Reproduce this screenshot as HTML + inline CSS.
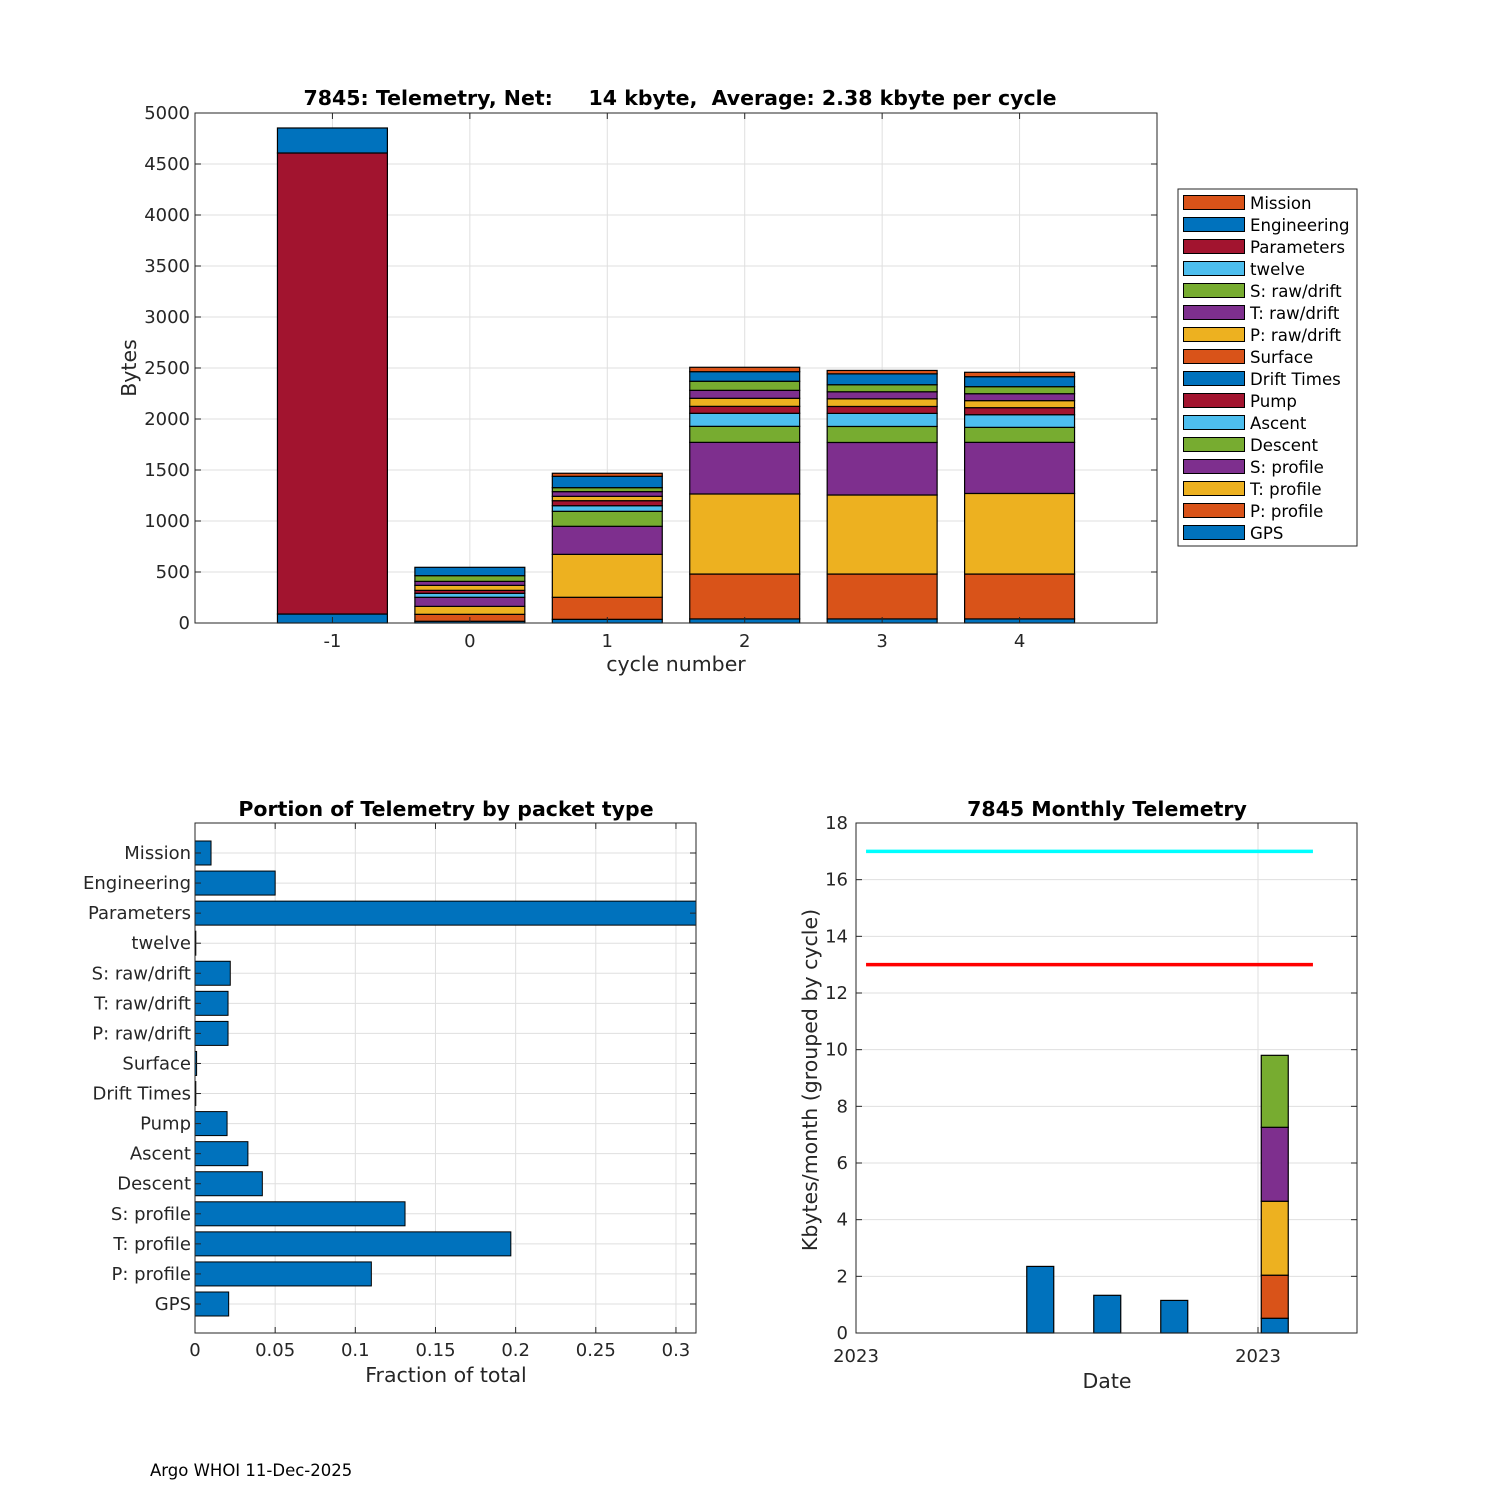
<!DOCTYPE html>
<html><head><meta charset="utf-8">
<style>
html,body{margin:0;padding:0;background:#fff;}
svg{display:block;font-family:"DejaVu Sans","Liberation Sans",sans-serif;}
</style></head>
<body>
<svg id="fig" width="1500" height="1500" viewBox="0 0 1500 1500" xmlns="http://www.w3.org/2000/svg">
<rect x="0" y="0" width="1500" height="1500" fill="#fff"/>
<g id="top"></g><g id="bl"></g><g id="br"></g>
<text x="150" y="1476" font-size="16.5" fill="#000">Argo WHOI 11-Dec-2025</text>
</svg>
<script>
// ---------- data: top chart ----------
const cycles = [-1, 0, 1, 2, 3, 4];
const seriesNames = ["GPS","P: profile","T: profile","S: profile","Descent","Ascent","Pump","Drift Times","Surface","P: raw/drift","T: raw/drift","S: raw/drift","twelve","Parameters","Engineering","Mission"];
const gpsVals = [88,17,36,40,40,40];
const pProfVals = [0,68,216,440,440,440];
const tProfVals = [0,78,421,785,775,790];
const sProfVals = [0,89,275,506,515,501];
const descentVals = [0,0,147,157,157,147];
const ascentVals = [0,39,55,128,128,124];
const pumpVals = [0,29,49,68,68,69];
const driftVals = [0,0,0,0,0,0];
const surfaceVals = [0,0,0,0,0,0];
const pRawVals = [0,49,43,79,75,69];
const tRawVals = [0,39,46,78,69,68];
const sRawVals = [0,56,39,89,69,69];
const twelveVals = [0,0,0,0,0,0];
const paramVals = [4520,0,0,0,0,0];
const engVals = [245,82,111,94,107,98];
const missionVals = [0,0,30,43,33,43];
const yTicksTop = [0,500,1000,1500,2000,2500,3000,3500,4000,4500,5000];
// ---------- data: bottom-left ----------
const packetTypes = ["Mission","Engineering","Parameters","twelve","S: raw/drift","T: raw/drift","P: raw/drift","Surface","Drift Times","Pump","Ascent","Descent","S: profile","T: profile","P: profile","GPS"];
const fractions = [0.010,0.050,0.323,0.0005,0.022,0.0206,0.0206,0.001,0.0005,0.020,0.033,0.042,0.131,0.197,0.110,0.021];
const xTicksFrac = [0,0.05,0.1,0.15,0.2,0.25,0.3];
const xTickFracLabels = ["0","0.05","0.1","0.15","0.2","0.25","0.3"];
// ---------- data: bottom-right ----------
const monthPos = [2.75,3.75,4.75];
const monthVals = [2.35,1.33,1.15];
const stackPos = 6.25;
const stackVals = [0.52,1.52,2.61,2.61,2.54];
const yTicksMonthly = [0,2,4,6,8,10,12,14,16,18];
const dateTicks = [0,6];
const dateTickLabels = ["2023","2023"];
const limitLevels = [17,13];
const limitStart = 0.15, limitEnd = 6.82;

const C = {blue:"#0072BD",orange:"#D95319",yellow:"#EDB120",purple:"#7E2F8E",green:"#77AC30",lblue:"#4DBEEE",red:"#A2142F"};
const seriesColors = [C.blue,C.orange,C.yellow,C.purple,C.green,C.lblue,C.red,C.blue,C.orange,C.yellow,C.purple,C.green,C.lblue,C.red,C.blue,C.orange];
const seriesData = [gpsVals,pProfVals,tProfVals,sProfVals,descentVals,ascentVals,pumpVals,driftVals,surfaceVals,pRawVals,tRawVals,sRawVals,twelveVals,paramVals,engVals,missionVals];
const NS="http://www.w3.org/2000/svg";
function mk(parent,tag,attrs,text){const e=document.createElementNS(NS,tag);for(const k in attrs)e.setAttribute(k,attrs[k]);if(text!==undefined)e.textContent=text;parent.appendChild(e);return e;}
const GRID="#dfdfdf", AX="#262626", TF=18, AF=20.5, HF=20.5;

// ===== TOP CHART =====
(function(){
 const g=document.getElementById('top');
 const L=195,R=1157,T=113,B=623;
 const xs=c=>L+(c+2)/7*(R-L);
 const ys=v=>B-v/5000*(B-T);
 yTicksTop.forEach(t=>{const l=mk(g,'line',{x1:L,x2:R,y1:ys(t),y2:ys(t),stroke:GRID,'stroke-width':1});
 
 });
 cycles.forEach(c=>{const l=mk(g,'line',{x1:xs(c),x2:xs(c),y1:T,y2:B,stroke:GRID,'stroke-width':1});
 
 });
 const bw=0.8/7*(R-L);
 cycles.forEach((c,i)=>{let acc=0;
  seriesData.forEach((arr,s)=>{const v=arr[i];if(v<=0)return;
   const r=mk(g,'rect',{x:xs(c)-bw/2,y:ys(acc+v),width:bw,height:ys(acc)-ys(acc+v),fill:seriesColors[s],stroke:'#000','stroke-width':1.2});
   
   
   acc+=v;});
 });
 mk(g,'rect',{x:L,y:T,width:R-L,height:B-T,fill:'none',stroke:AX,'stroke-width':1});
 yTicksTop.forEach(t=>{mk(g,'line',{x1:L,x2:L+6,y1:ys(t),y2:ys(t),stroke:AX});mk(g,'line',{x1:R,x2:R-6,y1:ys(t),y2:ys(t),stroke:AX});
  const tx=mk(g,'text',{x:L-5,y:ys(t)+6,'text-anchor':'end','font-size':TF,fill:AX},String(t));
  
  });
 cycles.forEach(c=>{mk(g,'line',{x1:xs(c),x2:xs(c),y1:B,y2:B-6,stroke:AX});mk(g,'line',{x1:xs(c),x2:xs(c),y1:T,y2:T+6,stroke:AX});
  const tx=mk(g,'text',{x:xs(c),y:B+24,'text-anchor':'middle','font-size':TF,fill:AX},String(c));
  
  });
 const t1=mk(g,'text',{x:680,y:105,'text-anchor':'middle','font-size':HF,'font-weight':'bold',fill:'#000',style:'white-space:pre'},'7845: Telemetry, Net:     14 kbyte,  Average: 2.38 kbyte per cycle');
 
 
 const xl=mk(g,'text',{x:676,y:671,'text-anchor':'middle','font-size':AF,fill:AX},'cycle number');
 
 
 const yl=mk(g,'text',{x:136,y:368,'text-anchor':'middle','font-size':AF,fill:AX,transform:'rotate(-90 136 368)'},'Bytes');
 
 
 // legend
 const lg=mk(g,'g',{});
 
 
 mk(lg,'rect',{x:1178,y:189,width:179,height:357,fill:'#fff',stroke:AX,'stroke-width':1});
 for(let k=0;k<16;k++){const s=15-k;const y=195+k*22;
  const e=mk(lg,'g',{});
  
  
  mk(e,'rect',{x:1183.5,y:y+0.5,width:61,height:14,fill:seriesColors[s],stroke:'#000','stroke-width':1});
  mk(e,'text',{x:1250,y:y+14,'font-size':16.6,fill:'#000'},seriesNames[s]);}
})();

// ===== BOTTOM LEFT =====
(function(){
 const g=document.getElementById('bl');
 const L=195,R=696,T=823,B=1333, xmax=0.3125;
 const xs=v=>L+Math.min(v,xmax)/xmax*(R-L);
 const n=packetTypes.length;
 const ys=i=>853+i*((1304-853)/(n-1));
 xTicksFrac.forEach(t=>{const l=mk(g,'line',{x1:xs(t),x2:xs(t),y1:T,y2:B,stroke:GRID});
  
  });
 packetTypes.forEach((p,i)=>{const l=mk(g,'line',{x1:L,x2:R,y1:ys(i),y2:ys(i),stroke:GRID});
  
  });
 packetTypes.forEach((p,i)=>{const bh=24;
  const r=mk(g,'rect',{x:L,y:ys(i)-bh/2,width:xs(fractions[i])-L,height:bh,fill:C.blue,stroke:'#000','stroke-width':1});
  
  
  mk(g,'line',{x1:L,x2:L+6,y1:ys(i),y2:ys(i),stroke:AX});mk(g,'line',{x1:R,x2:R-6,y1:ys(i),y2:ys(i),stroke:AX});
  const tx=mk(g,'text',{x:L-4,y:ys(i)+6,'text-anchor':'end','font-size':TF,fill:AX},p);
  
  });
 mk(g,'rect',{x:L,y:T,width:R-L,height:B-T,fill:'none',stroke:AX});
 xTicksFrac.forEach((t,i)=>{mk(g,'line',{x1:xs(t),x2:xs(t),y1:B,y2:B-6,stroke:AX});mk(g,'line',{x1:xs(t),x2:xs(t),y1:T,y2:T+6,stroke:AX});
  const tx=mk(g,'text',{x:xs(t),y:B+23,'text-anchor':'middle','font-size':TF,fill:AX},xTickFracLabels[i]);
  
  });
 const t1=mk(g,'text',{x:446,y:816,'text-anchor':'middle','font-size':HF,'font-weight':'bold',fill:'#000'},'Portion of Telemetry by packet type');
 
 
 const xl=mk(g,'text',{x:446,y:1382,'text-anchor':'middle','font-size':AF,fill:AX},'Fraction of total');
 
 
})();

// ===== BOTTOM RIGHT =====
(function(){
 const g=document.getElementById('br');
 const L=856,R=1357,T=823,B=1333;
 const pxPerMonth=67;
 const xs=m=>L+m*pxPerMonth;
 const ys=v=>B-v/18*(B-T);
 yTicksMonthly.forEach(t=>{const l=mk(g,'line',{x1:L,x2:R,y1:ys(t),y2:ys(t),stroke:GRID});
  
  });
 dateTicks.forEach(t=>{const l=mk(g,'line',{x1:xs(t),x2:xs(t),y1:T,y2:B,stroke:GRID});
  
  });
 const bw=27;
 monthPos.forEach((m,i)=>{const r=mk(g,'rect',{x:xs(m)-bw/2,y:ys(monthVals[i]),width:bw,height:ys(0)-ys(monthVals[i]),fill:C.blue,stroke:'#000','stroke-width':1.2});
  
  });
 const stackColors=[C.blue,C.orange,C.yellow,C.purple,C.green];
 let acc=0;
 stackVals.forEach((v,i)=>{const r=mk(g,'rect',{x:xs(stackPos)-bw/2,y:ys(acc+v),width:bw,height:ys(acc)-ys(acc+v),fill:stackColors[i],stroke:'#000','stroke-width':1.2});
  
  
  acc+=v;});
 const lineColors=['#00FFFF','#FF0000'];
 limitLevels.forEach((lv,i)=>{const l=mk(g,'line',{x1:xs(limitStart),x2:xs(limitEnd),y1:ys(lv),y2:ys(lv),stroke:lineColors[i],'stroke-width':3.5});
  
  });
 mk(g,'rect',{x:L,y:T,width:R-L,height:B-T,fill:'none',stroke:AX});
 yTicksMonthly.forEach(t=>{mk(g,'line',{x1:L,x2:L+6,y1:ys(t),y2:ys(t),stroke:AX});mk(g,'line',{x1:R,x2:R-6,y1:ys(t),y2:ys(t),stroke:AX});
  const tx=mk(g,'text',{x:L-8,y:ys(t)+6,'text-anchor':'end','font-size':TF,fill:AX},String(t));
  
  });
 dateTicks.forEach((t,i)=>{mk(g,'line',{x1:xs(t),x2:xs(t),y1:B,y2:B-6,stroke:AX});mk(g,'line',{x1:xs(t),x2:xs(t),y1:T,y2:T+6,stroke:AX});
  const tx=mk(g,'text',{x:xs(t),y:B+29,'text-anchor':'middle','font-size':TF,fill:AX},dateTickLabels[i]);
  
  });
 const t1=mk(g,'text',{x:1107,y:816,'text-anchor':'middle','font-size':HF,'font-weight':'bold',fill:'#000'},'7845 Monthly Telemetry');
 
 
 const xl=mk(g,'text',{x:1107,y:1388,'text-anchor':'middle','font-size':AF,fill:AX},'Date');
 
 
 const yl=mk(g,'text',{x:817,y:1080,'text-anchor':'middle','font-size':AF,fill:AX,transform:'rotate(-90 817 1080)'},'Kbytes/month (grouped by cycle)');
 
 
})();
</script>
</body></html>
